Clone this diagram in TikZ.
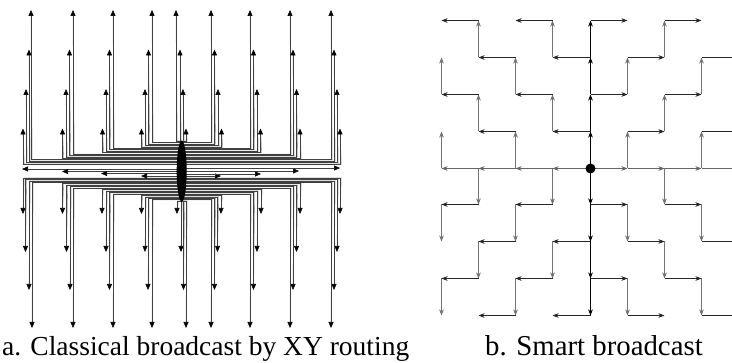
\documentclass[tikz,border=0pt]{standalone}
\usepackage{fontspec}
\setmainfont{Liberation Serif}
\usetikzlibrary{arrows.meta}
\begin{document}
\begin{tikzpicture}[x=1pt,y=-1pt,
  lpath/.style={draw=black!75,line width=0.6pt,-{Triangle[length=6pt,width=5pt,fill=black,color=black]}},
  lshadow/.style={draw=black!35,line width=0.6pt,shorten >=5pt},
  hseg/.style={draw=black!85,line width=1pt,-{Stealth[length=6pt,width=4.6pt,inset=1.8pt]}},
  vseg/.style={draw=black!55,line width=1pt,-{Stealth[length=6pt,width=4.6pt,inset=1.8pt]}},
  cseg/.style={draw=black,line width=1pt,-{Stealth[length=6pt,width=4.6pt,inset=1.8pt]}},
  rseg/.style={draw=black!60,line width=1pt,-{Stealth[length=6pt,width=4.6pt,inset=1.8pt]}},
  captext/.style={font=\fontsize{27.5}{30}\selectfont,inner sep=0pt,anchor=base west}
]
\useasboundingbox (0,0) rectangle (732,363);
\begin{scope}
\clip (0,0) rectangle (732,363);
% ---------- panel a : XY routing ----------
\def\XTop{{31,29,26,23, 73,69.5,66,62.5, 113,109.5,106,102.5, 152,148.5,145,141.5, 176,180,183,186, 211,214.5,218,221.5, 250,253.5,257,260.5, 290,293,296.5,300, 331,334,337,340}}
\def\XBot{{23,25.5,29,32, 62.5,66.5,70,73, 102,106,109.5,113, 141.5,145,148,152, 177,181,183.5,186, 221,217.5,214.5,211, 261,257,253.5,250, 300,296.5,293,290, 340,337,334,331}}
\def\YTop{{10,49.5,89,128.5}}
\def\YBot{{214,252,290,328}}
\def\KTop{{3,2,1,0,0,0,1,2,3}}
\def\KBot{{0,1,2,3,0,3,2,1,0}}
\coordinate (src) at (181.7,171.2);
\foreach \i in {0,...,8}{
  \foreach \j in {0,...,3}{
    \pgfmathsetmacro\xx{\XTop[4*\i+\j]}
    \pgfmathsetmacro\yt{\YTop[\j]}
    \pgfmathsetmacro\kk{\KTop[\i]}
    \pgfmathsetmacro\yh{\i==4 ? 141 : 142.7+(\kk*4+\j)*1.42}
    \coordinate (ta-\i-\j) at (\xx,\yt);
    \draw[lshadow,xshift=1.2pt] (181,\yh) -- (\xx,\yh) -- (ta-\i-\j);
    \draw[lpath] (181,\yh) -- (\xx,\yh) -- (ta-\i-\j);
  }
}
\foreach \i in {0,...,8}{
  \foreach \j in {0,...,3}{
    \pgfmathsetmacro\xx{\XBot[4*\i+\j]}
    \pgfmathsetmacro\yt{\YBot[\j]}
    \pgfmathsetmacro\kk{\KBot[\i]}
    \pgfmathsetmacro\yh{\i==4 ? 201 : 178+(\kk*4+\j)*1.45}
    \coordinate (ba-\i-\j) at (\xx,\yt);
    \draw[lshadow,xshift=1.2pt] (181,\yh) -- (\xx,\yh) -- (ba-\i-\j);
    \draw[lpath] (181,\yh) -- (\xx,\yh) -- (ba-\i-\j);
  }
}
\foreach \xe/\yy [count=\n] in {22/169, 62/171.5, 101/173.5, 141/176, 221/176, 261/174, 299/171, 340/168}{
  \coordinate (ra-\n) at (\xe,\yy);
  \draw[lpath] (181,\yy) -- (ra-\n);
}
\fill (src) ellipse [x radius=5pt, y radius=30.5pt];
% ---------- panel b : smart broadcast ----------
\foreach \c in {0,...,8}{
  \foreach \r in {0,...,8}{
    \coordinate (g-\c-\r) at ({round(441+37.15*\c)+0.5},{round(20+36.875*\r)+0.5});
  }
}
\foreach \c/\a/\b in {0/2/1,0/4/3,1/1/0,1/3/2,2/2/1,2/4/3,3/1/0,3/3/2,5/2/1,5/4/3,6/1/0,6/3/2,7/2/1,7/4/3,8/1/0,8/3/2,
  0/5/6,0/7/8,1/4/5,1/6/7,2/5/6,2/7/8,3/4/5,3/6/7,5/5/6,5/7/8,6/4/5,6/6/7,7/5/6,7/7/8,8/4/5,8/6/7}
  \draw[vseg] (g-\c-\a) -- (g-\c-\b);
\foreach \r in {0,2,5,7}{
  \foreach \a/\b in {1/0,3/2,4/5,6/7} \draw[hseg] (g-\a-\r) -- (g-\b-\r);
}
\foreach \r in {1,3,6,8}{
  \foreach \a/\b in {2/1,4/3,5/6,7/8} \draw[hseg] (g-\a-\r) -- (g-\b-\r);
}
\foreach \a/\b in {4/3,3/2,2/1,1/0,4/5,5/6,6/7,7/8} \draw[rseg] (g-\a-4) -- (g-\b-4);
\foreach \a/\b in {4/3,3/2,2/1,1/0,4/5,5/6,6/7,7/8} \draw[cseg] (g-4-\a) -- (g-4-\b);
\fill (g-4-4) circle (5pt);
\end{scope}
% ---------- captions ----------
\node[captext] (capa) at (2,356) {a. Classical broadcast by XY routing};
\node[captext, font=\fontsize{28.8}{31}\selectfont] (capb) at (485,356) {b. Smart broadcast};
\end{tikzpicture}
\end{document}
